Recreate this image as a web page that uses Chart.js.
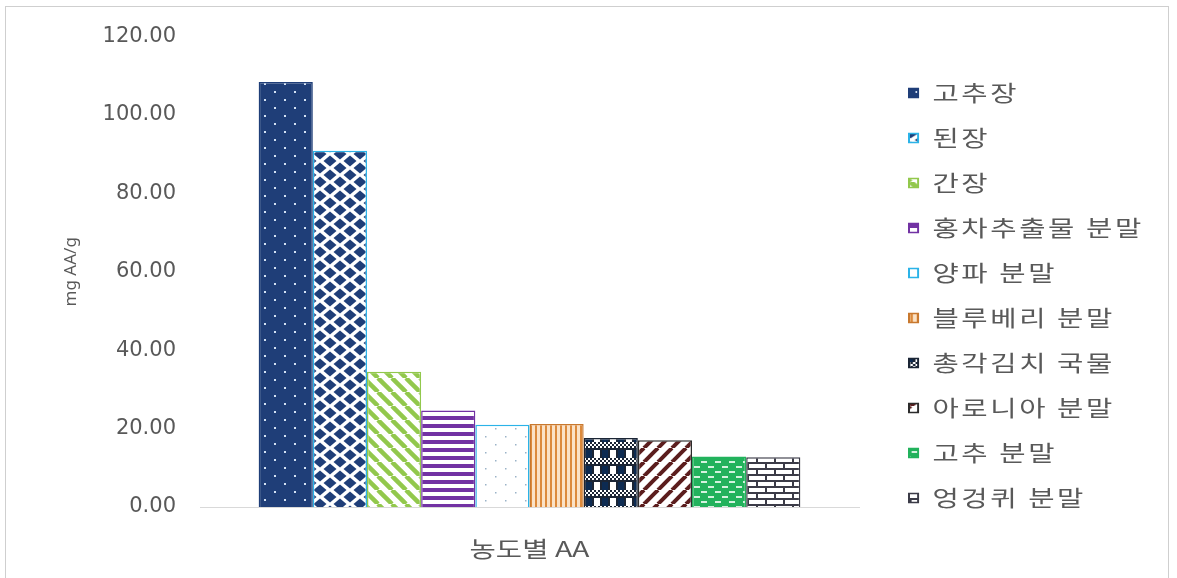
<!DOCTYPE html>
<html>
<head>
<meta charset="utf-8">
<script src="https://cdn.jsdelivr.net/npm/chart.js@4.4.1/dist/chart.umd.min.js"></script>
<style>
html, body { margin: 0; padding: 0; background: #fff; }
#wrap { position: relative; width: 1177px; height: 578px; overflow: hidden; }
#wrap canvas { position: absolute; left: 0; top: 0; }
#frame { position: absolute; left: 5px; top: 6px; width: 1162px; height: 600px; border: 1px solid #cfcfcf; pointer-events: none; }
</style>
</head>
<body>
<div id="wrap">
  <canvas id="chart" width="1177" height="578"></canvas>
  <div id="frame"></div>
</div>
<script>
// data
const categories = ['농도별 AA']
const seriesNames = ['고추장', '된장', '간장', '홍차추출물 분말', '양파 분말', '블루베리 분말', '총각김치 국물', '아로니아 분말', '고추 분말', '엉겅퀴 분말']
const seriesValues = [108.4, 90.9, 34.5, 24.6, 21.0, 21.2, 17.6, 17.0, 12.9, 12.7]
const yTicks = [0, 20, 40, 60, 80, 100, 120]

const borderColors = ['#1f3e78', '#2bb3e8', '#92c84c', '#7232a3', '#2bb3e8', '#c8782e', '#1b2535', '#2b2b2b', '#22b25c', '#3b3b47']

// little tiles for the excel-like fill patterns
function makePattern(w, h, draw) {
  const c = document.createElement('canvas')
  c.width = w
  c.height = h
  const g = c.getContext('2d')
  draw(g, w, h)
  return c.getContext('2d').createPattern(c, 'repeat')
}

function stripes(color, size, lw, dir) {
  return makePattern(size, size, (g, w, h) => {
    g.fillStyle = '#fff'
    g.fillRect(0, 0, w, h)
    g.strokeStyle = color
    g.lineWidth = lw
    for (let k = -1; k <= 1; k++) {
      g.beginPath()
      if (dir == 'down') {
        g.moveTo(k * w, 0)
        g.lineTo(k * w + w, h)
      } else {
        g.moveTo(k * w, h)
        g.lineTo(k * w + w, 0)
      }
      g.stroke()
    }
  })
}

const patterns = [
  // navy with small dots
  makePattern(20, 16, (g, w, h) => {
    g.fillStyle = '#1f3e78'
    g.fillRect(0, 0, w, h)
    g.fillStyle = '#d4e2f4'
    g.fillRect(4, 3, 2, 2)
    g.fillRect(14, 11, 2, 2)
  }),
  // diamonds
  makePattern(20, 14, (g, w, h) => {
    g.fillStyle = '#fff'
    g.fillRect(0, 0, w, h)
    g.fillStyle = '#1f3e78'
    const pts = [[0, 0], [20, 0], [0, 14], [20, 14], [10, 7]]
    for (const [x, y] of pts) {
      g.beginPath()
      g.moveTo(x - 6.5, y)
      g.lineTo(x, y - 5.5)
      g.lineTo(x + 6.5, y)
      g.lineTo(x, y + 5.5)
      g.closePath()
      g.fill()
    }
  }),
  stripes('#92c84c', 14, 4.5, 'down'),
  // horizontal purple
  makePattern(8, 8, (g, w, h) => {
    g.fillStyle = '#fff'
    g.fillRect(0, 0, w, h)
    g.fillStyle = '#7232a3'
    g.fillRect(0, 0, w, 4)
  }),
  // sparse dots
  makePattern(20, 16, (g, w, h) => {
    g.fillStyle = '#fff'
    g.fillRect(0, 0, w, h)
    g.fillStyle = '#9bb3c8'
    g.fillRect(5, 4, 1.5, 1.5)
    g.fillRect(15, 12, 1.5, 1.5)
  }),
  // vertical orange
  makePattern(5, 5, (g, w, h) => {
    g.fillStyle = '#fbe2c6'
    g.fillRect(0, 0, w, h)
    g.fillStyle = '#dc8a3c'
    g.fillRect(0, 0, 2, h)
  }),
  // plaid
  makePattern(16, 16, (g, w, h) => {
    g.fillStyle = '#fff'
    g.fillRect(0, 0, w, h)
    g.fillStyle = '#1b2535'
    g.fillRect(0, 0, 2, 10)
    g.fillRect(8, 0, 2, 10)
    g.fillRect(0, 0, 16, 2)
    g.fillStyle = '#0d2b52'
    g.fillRect(10, 2, 6, 8)
    g.fillStyle = '#1b2535'
    for (let y = 10; y < 16; y += 2) {
      for (let x = (y / 2) % 2 * 2; x < 16; x += 4) g.fillRect(x, y, 2, 2)
    }
  }),
  stripes('#5b1d1d', 14, 4, 'up'),
  // green with light dashes
  makePattern(14, 10, (g, w, h) => {
    g.fillStyle = '#22b25c'
    g.fillRect(0, 0, w, h)
    g.fillStyle = '#d3f2de'
    g.fillRect(1, 1, 6, 2)
    g.fillRect(8, 6, 6, 2)
  }),
  // bricks
  makePattern(18, 12, (g, w, h) => {
    g.fillStyle = '#fff'
    g.fillRect(0, 0, w, h)
    g.fillStyle = '#3b3b47'
    g.fillRect(0, 0, w, 2)
    g.fillRect(0, 6, w, 2)
    g.fillRect(0, 0, 2, 6)
    g.fillRect(9, 6, 2, 6)
  })
]

const datasets = seriesNames.map((name, i) => ({
  label: name,
  data: [seriesValues[i]],
  backgroundColor: patterns[i],
  borderColor: borderColors[i],
  borderWidth: 1.5,
  xAxisID: 'x',
  yAxisID: 'y'
}))

const grey = '#595959'

// the source text is set wide; stretch it horizontally around x0
function widen(obj, method, k, spacing, originX) {
  if (!obj || obj['_w_' + method]) return
  obj['_w_' + method] = true
  const orig = obj[method].bind(obj)
  obj[method] = function (...args) {
    const ctx = this.ctx
    const x0 = originX(this)
    ctx.save()
    ctx.letterSpacing = spacing + 'px'
    ctx.translate(x0, 0)
    ctx.scale(k, 1)
    ctx.translate(-x0, 0)
    orig(...args)
    ctx.restore()
  }
}

const LEGEND_PAD = 23

new Chart(document.getElementById('chart'), {
  type: 'bar',
  data: {
    labels: categories,
    datasets: datasets
  },
  options: {
    responsive: false,
    animation: false,
    layout: {
      padding: { left: 0, top: 34, right: 0, bottom: 21 }
    },
    datasets: {
      bar: {
        categoryPercentage: 0.822,
        barPercentage: 1
      }
    },
    scales: {
      x: {
        grid: { display: false, drawTicks: false },
        border: { display: true, color: '#d9d9d9', width: 1 },
        ticks: { display: false },
        // the single category name sits under the group
        title: {
          display: true,
          text: categories[0],
          color: grey,
          padding: { top: 0, bottom: -5 },
          font: { family: 'Noto Sans CJK KR', size: 22 }
        },
        afterFit: s => { s.height = 50 }
      },
      y: {
        min: 0,
        max: 120,
        grid: { display: false, drawTicks: false },
        border: { display: false },
        afterBuildTicks: s => { s.ticks = yTicks.map(v => ({ value: v })) },
        ticks: {
          color: grey,
          padding: 24,
          font: { family: 'DejaVu Sans', size: 21 },
          callback: v => Number(v).toFixed(2)
        },
        title: {
          display: true,
          text: 'mg AA/g',
          color: grey,
          padding: { top: 61, bottom: 0 },
          font: { family: 'Noto Sans', size: 17 }
        },
        afterFit: s => { s.width = 200 }
      },
      // empty spacer between plot and legend
      gap: {
        type: 'linear',
        axis: 'y',
        position: 'right',
        grid: { display: false, drawTicks: false },
        border: { display: false },
        ticks: { display: false },
        afterFit: s => { s.width = 27 }
      }
    },
    plugins: {
      tooltip: { enabled: false },
      legend: {
        position: 'right',
        align: 'center',
        labels: {
          color: grey,
          boxWidth: 7,
          boxHeight: 9,
          padding: LEGEND_PAD,
          font: { family: 'Noto Sans CJK KR', size: 22 }
        }
      }
    }
  },
  plugins: [{
    id: 'wideText',
    afterInit(chart) {
      const lg = chart.legend
      const fit = lg.fit.bind(lg)
      lg.fit = function () {
        fit()
        this.width = 1177 - 886
      }
      widen(lg, 'draw', 1.3, 2, b => b.left + LEGEND_PAD)
    },
    afterUpdate(chart) {
      widen(chart.scales.x, 'drawTitle', 1.3, 0, s => (s.left + s.right) / 2)
    }
  }]
})
</script>
</body>
</html>
